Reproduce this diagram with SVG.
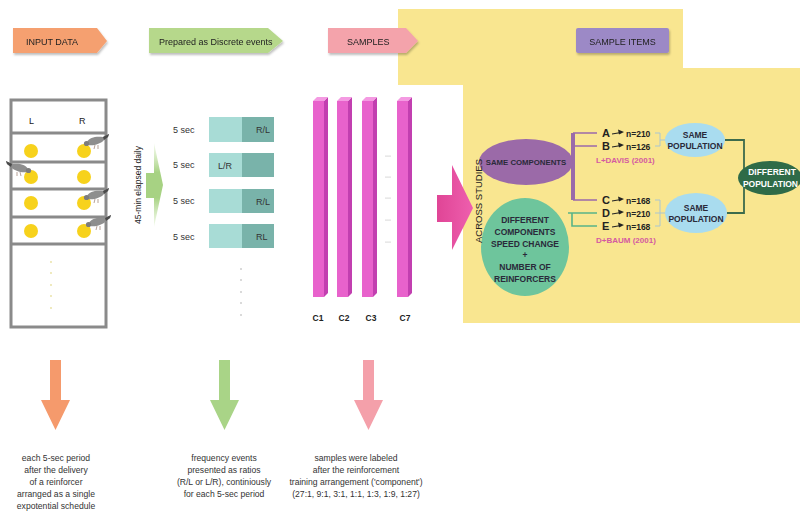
<svg xmlns="http://www.w3.org/2000/svg" width="800" height="511" viewBox="0 0 800 511">
  <style>
    text { font-family: "Liberation Sans", Arial, sans-serif; fill: #222; }
    .tag { font-size: 9px; }
    .cap { font-size: 8.6px; text-anchor: middle; fill: #333; }
    .b { font-weight: bold; }
    .lab { font-size: 8.5px; font-weight: bold; text-anchor: middle; fill: #2a2a3a; }
    .sec { font-size: 9px; fill: #333; }
    .dot { fill: #aaa; }
    .grid { fill: none; stroke: #8a8a8a; stroke-width: 3; }
    .bar-front { fill: #e862cc; }
    .bar-side { fill: #c23fb0; }
    .bar-top { fill: #f49ae2; }
    .lt { fill: #a8dcd6; }
    .dk { fill: #79b3aa; }
    .seed { fill: #f7d21c; }
  </style>
  <defs>
    <filter id="sh" x="-10%" y="-20%" width="130%" height="160%">
      <feDropShadow dx="1" dy="2" stdDeviation="1.2" flood-color="#000" flood-opacity="0.25"/>
    </filter>
    <linearGradient id="gArrow" x1="0" y1="0" x2="0" y2="1">
      <stop offset="0" stop-color="#c6e4a8" stop-opacity="0.2"/>
      <stop offset="0.35" stop-color="#a7d283"/>
      <stop offset="0.65" stop-color="#a7d283"/>
      <stop offset="1" stop-color="#c6e4a8" stop-opacity="0.2"/>
    </linearGradient>
    <linearGradient id="pArrow" x1="0" y1="0" x2="1" y2="0">
      <stop offset="0" stop-color="#e04596"/>
      <stop offset="1" stop-color="#ee5fae"/>
    </linearGradient>
    <!-- pigeon pecking, head at lower left, tail at upper right -->
    <g id="pigeon">
      <path d="M4,8 C6,3 14,2 20,3 L26,0 L25,3 L21,6 C18,10 10,12 5,11 Z" fill="#8e8e8e"/>
      <path d="M20,3 L26,0 L25,3 L21,6 Z" fill="#4a4a4a"/>
      <circle cx="3.5" cy="9.5" r="2.6" fill="#7c7c7c"/>
      <path d="M12,11 L11,15 M15,11 L15,15" stroke="#9a7a6a" stroke-width="0.7"/>
    </g>
  </defs>

  <!-- yellow background panel -->
  <polygon points="398,9 683,9 683,68 800,68 800,323 463,323 463,85 398,85" fill="#f9e690"/>

  <!-- header tags -->
  <g id="tag-input" filter="url(#sh)">
    <polygon points="13,28 97,28 107,41 97,53 13,53" fill="#f5a070"/>
    <text class="tag" x="26" y="44.5">INPUT DATA</text>
  </g>
  <g id="tag-prepared" filter="url(#sh)">
    <polygon points="149,28 268,28 283,41 268,53 149,53" fill="#b6d88b"/>
    <text class="tag" x="159" y="44.5">Prepared as Discrete events</text>
  </g>
  <g id="tag-samples" filter="url(#sh)">
    <polygon points="328,28 406,28 418,41 406,53 328,53" fill="#f4a3ab"/>
    <text class="tag" x="347" y="44.5">SAMPLES</text>
  </g>
  <g id="tag-items" filter="url(#sh)">
    <rect x="576" y="28" width="93" height="25" rx="2" fill="#9c89c6"/>
    <text class="tag" x="622.5" y="44.5" text-anchor="middle">SAMPLE ITEMS</text>
  </g>

  <!-- input data: box with L / R keys -->
  <g id="input-box">
    <rect class="grid" x="11" y="100" width="95" height="227"/>
    <line class="grid" x1="11" y1="133" x2="106" y2="133"/>
    <line class="grid" x1="11" y1="162" x2="106" y2="162"/>
    <line class="grid" x1="11" y1="189" x2="106" y2="189"/>
    <line class="grid" x1="11" y1="217" x2="106" y2="217"/>
    <line class="grid" x1="11" y1="244" x2="106" y2="244"/>
    <text x="29" y="124" font-size="9">L</text>
    <text x="79" y="124" font-size="9">R</text>
    <circle class="seed" cx="31" cy="151" r="7"/>
    <circle class="seed" cx="84" cy="151" r="7"/>
    <circle class="seed" cx="31" cy="177" r="7"/>
    <circle class="seed" cx="84" cy="177" r="7"/>
    <circle class="seed" cx="31" cy="203" r="7"/>
    <circle class="seed" cx="84" cy="203" r="7"/>
    <circle class="seed" cx="31" cy="231" r="7"/>
    <circle class="seed" cx="84" cy="231" r="7"/>
    <use href="#pigeon" x="83" y="134"/>
    <use href="#pigeon" transform="translate(32,161) scale(-1,1)"/>
    <use href="#pigeon" x="83" y="188"/>
    <use href="#pigeon" x="85" y="215"/>
    <g fill="#e8e0a0">
      <circle cx="51" cy="262" r="0.9"/>
      <circle cx="51" cy="273" r="0.9"/>
      <circle cx="51" cy="285" r="0.9"/>
      <circle cx="51" cy="296" r="0.9"/>
      <circle cx="51" cy="308" r="0.9"/>
    </g>
  </g>

  <!-- 45-min arrow -->
  <g id="elapsed">
    <polygon points="146,173 154,173 154,143 163,185 154,227 154,198 146,198" fill="url(#gArrow)"/>
    <text x="0" y="0" font-size="8.5" text-anchor="middle" transform="translate(141,185) rotate(-90)">45-min elapsed daily</text>
  </g>

  <!-- discrete events -->
  <g id="events">
    <text class="sec" x="173" y="133">5 sec</text>
    <rect class="lt" x="209" y="117" width="33" height="25"/>
    <rect class="dk" x="242" y="117" width="32" height="25"/>
    <text class="sec" x="256" y="133">R/L</text>

    <text class="sec" x="173" y="168">5 sec</text>
    <rect class="lt" x="209" y="153" width="33" height="24"/>
    <rect class="dk" x="242" y="153" width="32" height="24"/>
    <text class="sec" x="218" y="169">L/R</text>

    <text class="sec" x="173" y="204">5 sec</text>
    <rect class="lt" x="209" y="189" width="33" height="24"/>
    <rect class="dk" x="242" y="189" width="32" height="24"/>
    <text class="sec" x="256" y="205">R/L</text>

    <text class="sec" x="173" y="240">5 sec</text>
    <rect class="lt" x="209" y="224" width="33" height="24"/>
    <rect class="dk" x="242" y="224" width="32" height="24"/>
    <text class="sec" x="256" y="240">RL</text>

    <circle class="dot" cx="241" cy="269" r="0.8"/>
    <circle class="dot" cx="241" cy="280" r="0.8"/>
    <circle class="dot" cx="241" cy="292" r="0.8"/>
    <circle class="dot" cx="241" cy="303" r="0.8"/>
    <circle class="dot" cx="241" cy="315" r="0.8"/>
  </g>

  <!-- sample bars -->
  <g id="bar-c1">
    <rect class="bar-front" x="313" y="101" width="11" height="196"/>
    <polygon class="bar-side" points="324,101 328,97 328,293 324,297"/>
    <polygon class="bar-top" points="313,101 317,97 328,97 324,101"/>
    <text class="b" x="318" y="321" font-size="8.5" text-anchor="middle">C1</text>
  </g>
  <g id="bar-c2">
    <rect class="bar-front" x="337" y="101" width="11" height="196"/>
    <polygon class="bar-side" points="348,101 352,97 352,293 348,297"/>
    <polygon class="bar-top" points="337,101 341,97 352,97 348,101"/>
    <text class="b" x="344" y="321" font-size="8.5" text-anchor="middle">C2</text>
  </g>
  <g id="bar-c3">
    <rect class="bar-front" x="362" y="101" width="11" height="196"/>
    <polygon class="bar-side" points="373,101 377,97 377,293 373,297"/>
    <polygon class="bar-top" points="362,101 366,97 377,97 373,101"/>
    <text class="b" x="371" y="321" font-size="8.5" text-anchor="middle">C3</text>
  </g>
  <g id="bar-c7">
    <rect class="bar-front" x="397" y="101" width="11" height="196"/>
    <polygon class="bar-side" points="408,101 412,97 412,293 408,297"/>
    <polygon class="bar-top" points="397,101 401,97 412,97 408,101"/>
    <text class="b" x="405" y="321" font-size="8.5" text-anchor="middle">C7</text>
  </g>
  <g id="bar-gap" fill="#aaa">
    <circle cx="386" cy="156" r="0.6"/><circle cx="388" cy="156" r="0.6"/><circle cx="390" cy="156" r="0.6"/>
    <circle cx="386" cy="177" r="0.6"/><circle cx="388" cy="177" r="0.6"/><circle cx="390" cy="177" r="0.6"/>
    <circle cx="386" cy="198" r="0.6"/><circle cx="388" cy="198" r="0.6"/><circle cx="390" cy="198" r="0.6"/>
    <circle cx="386" cy="220" r="0.6"/><circle cx="388" cy="220" r="0.6"/><circle cx="390" cy="220" r="0.6"/>
    <circle cx="386" cy="242" r="0.6"/><circle cx="388" cy="242" r="0.6"/><circle cx="390" cy="242" r="0.6"/>
  </g>

  <!-- big arrow into the sample items -->
  <polygon id="across-arrow" points="437,195 452,195 452,165 473,208 452,250 452,222 437,222" fill="url(#pArrow)"/>

  <!-- connectors -->
  <g id="connectors" fill="none">
    <path d="M573,133 L573,200" stroke="#9a6aaa" stroke-width="4"/>
    <path d="M573,133 L597,133 M573,146 L597,146 M573,200 L597,200" stroke="#9a6aaa" stroke-width="1.6"/>
    <path d="M568,213 L597,213 M572,213 L572,226 L597,226" stroke="#58b488" stroke-width="1.6"/>
    <path d="M655,133 L660,133 L660,146 L655,146 M660,140 L666,140" stroke="#a9c6d2" stroke-width="1"/>
    <path d="M655,200 L660,200 L660,226 L655,226 M655,213 L666,213" stroke="#a9c6d2" stroke-width="1"/>
    <path d="M725,140 L744,140 L744,213 L727,213" stroke="#3c6b4c" stroke-width="1.8"/>
    <!-- small pointer arrows -->
    <g stroke="#222" stroke-width="1.1">
      <path d="M612,134 L621,132.5 M612,147 L621,145.5 M612,201 L621,199.5 M612,214 L621,212.5 M612,227 L621,225.5"/>
    </g>
    <g fill="#222" stroke="none">
      <polygon points="624,132 618,129.5 619,134.5"/>
      <polygon points="624,145 618,142.5 619,147.5"/>
      <polygon points="624,199 618,196.5 619,201.5"/>
      <polygon points="624,212 618,209.5 619,214.5"/>
      <polygon points="624,225 618,222.5 619,227.5"/>
    </g>
  </g>

  <!-- nodes -->
  <g id="same-components">
    <ellipse cx="526" cy="162" rx="47" ry="23" fill="#9b6aa8"/>
    <text class="lab" x="526" y="165" font-size="7.8" style="font-size:7.8px">SAME COMPONENTS</text>
  </g>
  <g id="different-components">
    <ellipse cx="525" cy="247" rx="44" ry="49" fill="#6ec59c"/>
    <text class="lab" x="525" y="223">DIFFERENT</text>
    <text class="lab" x="525" y="235">COMPONENTS</text>
    <text class="lab" x="525" y="247">SPEED CHANGE</text>
    <text class="lab" x="525" y="258">+</text>
    <text class="lab" x="525" y="270">NUMBER OF</text>
    <text class="lab" x="525" y="282">REINFORCERS</text>
  </g>

  <text x="0" y="0" font-size="9.5" text-anchor="middle" transform="translate(482,201) rotate(-90)">ACROSS STUDIES</text>

  <g id="items" font-weight="bold">
    <text x="602" y="137" font-size="11">A</text>
    <text x="626" y="137" font-size="8.5" class="b">n=210</text>
    <text x="602" y="150" font-size="11">B</text>
    <text x="626" y="150" font-size="8.5" class="b">n=126</text>
    <text x="596" y="163" font-size="8" style="fill:#d45aa0">L+DAVIS   (2001)</text>
    <text x="602" y="204" font-size="11">C</text>
    <text x="626" y="204" font-size="8.5" class="b">n=168</text>
    <text x="602" y="217" font-size="11">D</text>
    <text x="626" y="217" font-size="8.5" class="b">n=210</text>
    <text x="602" y="230" font-size="11">E</text>
    <text x="626" y="230" font-size="8.5" class="b">n=168</text>
    <text x="596" y="243" font-size="8" style="fill:#d45aa0">D+BAUM   (2001)</text>
  </g>

  <g id="same-population-1">
    <ellipse cx="695" cy="140" rx="30" ry="17" fill="#a9dcef"/>
    <text class="lab" x="695" y="138">SAME</text>
    <text class="lab" x="695" y="149">POPULATION</text>
  </g>
  <g id="same-population-2">
    <ellipse cx="696" cy="213" rx="31" ry="20" fill="#a9dcef"/>
    <text class="lab" x="696" y="211">SAME</text>
    <text class="lab" x="696" y="222">POPULATION</text>
  </g>
  <g id="different-population">
    <ellipse cx="770" cy="178" rx="32" ry="17" fill="#2f6b48"/>
    <text class="lab" x="772" y="175" style="fill:#fff">DIFFERENT</text>
    <text class="lab" x="798" y="187" font-size="8.2" style="fill:#fff;text-anchor:end">POPULATION</text>
  </g>

  <!-- down arrows -->
  <polygon points="50,360 61,360 61,400 70,400 55.5,430 41,400 50,400" fill="#f59a6c"/>
  <polygon points="219,360 230,360 230,400 239,400 224.5,430 210,400 219,400" fill="#a9d487"/>
  <polygon points="363,360 374,360 374,400 383,400 368.5,430 354,400 363,400" fill="#f4a0aa"/>

  <!-- captions -->
  <g id="caption-input">
    <text class="cap" x="56" y="461">each 5-sec period</text>
    <text class="cap" x="56" y="473">after the delivery</text>
    <text class="cap" x="56" y="485">of a reinforcer</text>
    <text class="cap" x="56" y="497">arranged as a single</text>
    <text class="cap" x="56" y="509">expotential schedule</text>
  </g>
  <g id="caption-events">
    <text class="cap" x="224" y="461">frequency events</text>
    <text class="cap" x="224" y="473">presented as ratios</text>
    <text class="cap" x="224" y="485">(R/L or L/R), continiously</text>
    <text class="cap" x="224" y="497">for each 5-sec period</text>
  </g>
  <g id="caption-samples">
    <text class="cap" x="356" y="461">samples were labeled</text>
    <text class="cap" x="356" y="473">after the reinforcement</text>
    <text class="cap" x="356" y="485">training arrangement ('component')</text>
    <text class="cap" x="356" y="497">(27:1, 9:1, 3:1, 1:1, 1:3, 1:9, 1:27)</text>
  </g>
</svg>
